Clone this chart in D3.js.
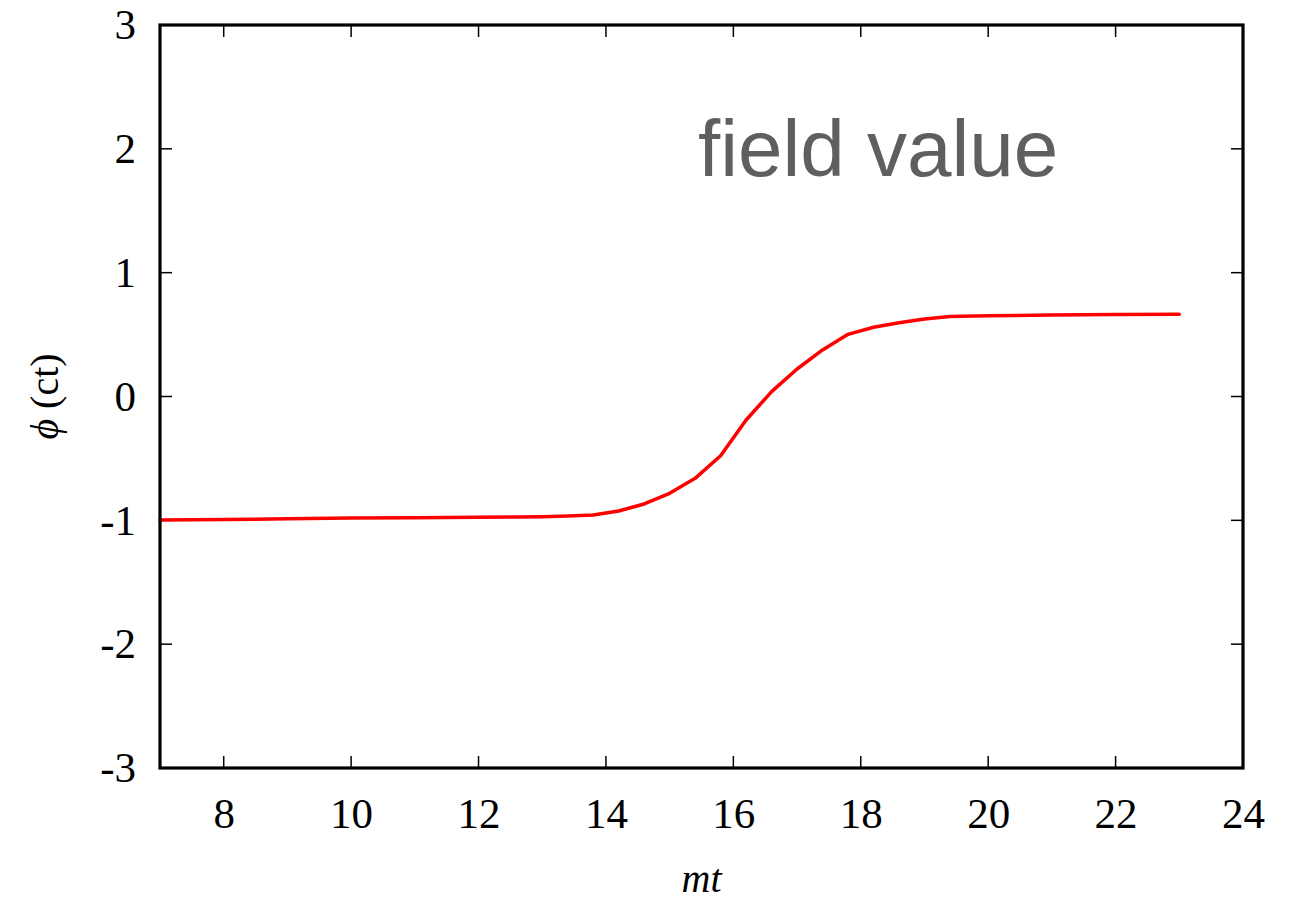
<!DOCTYPE html>
<html>
<head>
<meta charset="utf-8">
<script src="https://cdn.jsdelivr.net/npm/d3@7"></script>
<style>
  html, body { margin: 0; padding: 0; background: #fff; }
  svg { display: block; }
</style>
</head>
<body>
<svg id="chart" width="1306" height="905"></svg>
<script>
// Field value phi(ct) versus mt
const mtValues  = [7, 8, 9, 10, 11, 12, 12.6, 13, 13.4, 13.8, 14.2, 14.6, 15.0, 15.4, 15.8, 16.2, 16.6, 17.0, 17.4, 17.8, 18.2, 18.6, 19.0, 19.4, 20, 21, 22, 23];
const phiValues = [-0.998, -0.994, -0.988, -0.981, -0.979, -0.976, -0.973, -0.971, -0.965, -0.957, -0.925, -0.868, -0.782, -0.661, -0.478, -0.190, 0.039, 0.222, 0.376, 0.502, 0.559, 0.596, 0.626, 0.646, 0.652, 0.658, 0.662, 0.664];
const xTicks = [8, 10, 12, 14, 16, 18, 20, 22, 24];
const yTicks = [-3, -2, -1, 0, 1, 2, 3];

const svg = d3.select("#chart");
const plotL = 160, plotR = 1243, plotT = 25, plotB = 768;

const x = d3.scaleLinear().domain([7, 24]).range([plotL, plotR]);
const y = d3.scaleLinear().domain([-3, 3]).range([plotB, plotT]);

const serif = "'Liberation Serif', 'DejaVu Serif', serif";
const tickLen = 12;
const plainNum = d => String(d); // hyphen-minus, as in the original labels

// bottom axis labels
const xAxis = d3.axisBottom(x).tickValues(xTicks).tickSize(0).tickPadding(29).tickFormat(plainNum);
const gx = svg.append("g").attr("transform", `translate(0,${plotB})`).call(xAxis);
gx.select(".domain").remove();
gx.selectAll("text").attr("font-family", serif).attr("font-size", 43).attr("fill", "#000");

// left axis labels
const yAxis = d3.axisLeft(y).tickValues(yTicks).tickSize(0).tickPadding(24).tickFormat(plainNum);
const gy = svg.append("g").attr("transform", `translate(${plotL},0)`).call(yAxis);
gy.select(".domain").remove();
gy.selectAll("text").attr("font-family", serif).attr("font-size", 43).attr("fill", "#000");

// inward tick marks on all four sides
const ticks = svg.append("g").attr("stroke", "#000").attr("stroke-width", 1.5);
xTicks.filter(d => d < 24).forEach(d => {
  ticks.append("line").attr("x1", x(d)).attr("x2", x(d)).attr("y1", plotB).attr("y2", plotB - tickLen);
  ticks.append("line").attr("x1", x(d)).attr("x2", x(d)).attr("y1", plotT).attr("y2", plotT + tickLen);
});
yTicks.filter(d => d > -3 && d < 3).forEach(d => {
  ticks.append("line").attr("x1", plotL).attr("x2", plotL + tickLen).attr("y1", y(d)).attr("y2", y(d));
  ticks.append("line").attr("x1", plotR).attr("x2", plotR - tickLen).attr("y1", y(d)).attr("y2", y(d));
});

// data curve
const line = d3.line().x((d, i) => x(mtValues[i])).y(d => y(d));
svg.append("path")
  .datum(phiValues)
  .attr("d", line)
  .attr("fill", "none")
  .attr("stroke", "#ff0000")
  .attr("stroke-width", 3.5)
  .attr("stroke-linejoin", "round")
  .attr("stroke-linecap", "round");

// frame
svg.append("rect")
  .attr("x", plotL).attr("y", plotT)
  .attr("width", plotR - plotL).attr("height", plotB - plotT)
  .attr("fill", "none").attr("stroke", "#000").attr("stroke-width", 3.2);

// axis titles
svg.append("text")
  .attr("x", (plotL + plotR) / 2).attr("y", 892)
  .attr("text-anchor", "middle")
  .attr("font-family", serif).attr("font-size", 40).attr("font-style", "italic")
  .text("mt");

const yl = svg.append("text")
  .attr("transform", `translate(58,${y(0)}) rotate(-90)`)
  .attr("text-anchor", "middle")
  .attr("font-family", serif).attr("font-size", 40);
yl.append("tspan").attr("font-style", "italic").text("ϕ");
yl.append("tspan").text(" (ct)");

// in-plot annotation
svg.append("text")
  .attr("x", 698).attr("y", 176)
  .attr("font-family", "'Liberation Sans', Arial, sans-serif")
  .attr("font-size", 80)
  .attr("fill", "#5f5f5f")
  .text("field value");
</script>
</body>
</html>
